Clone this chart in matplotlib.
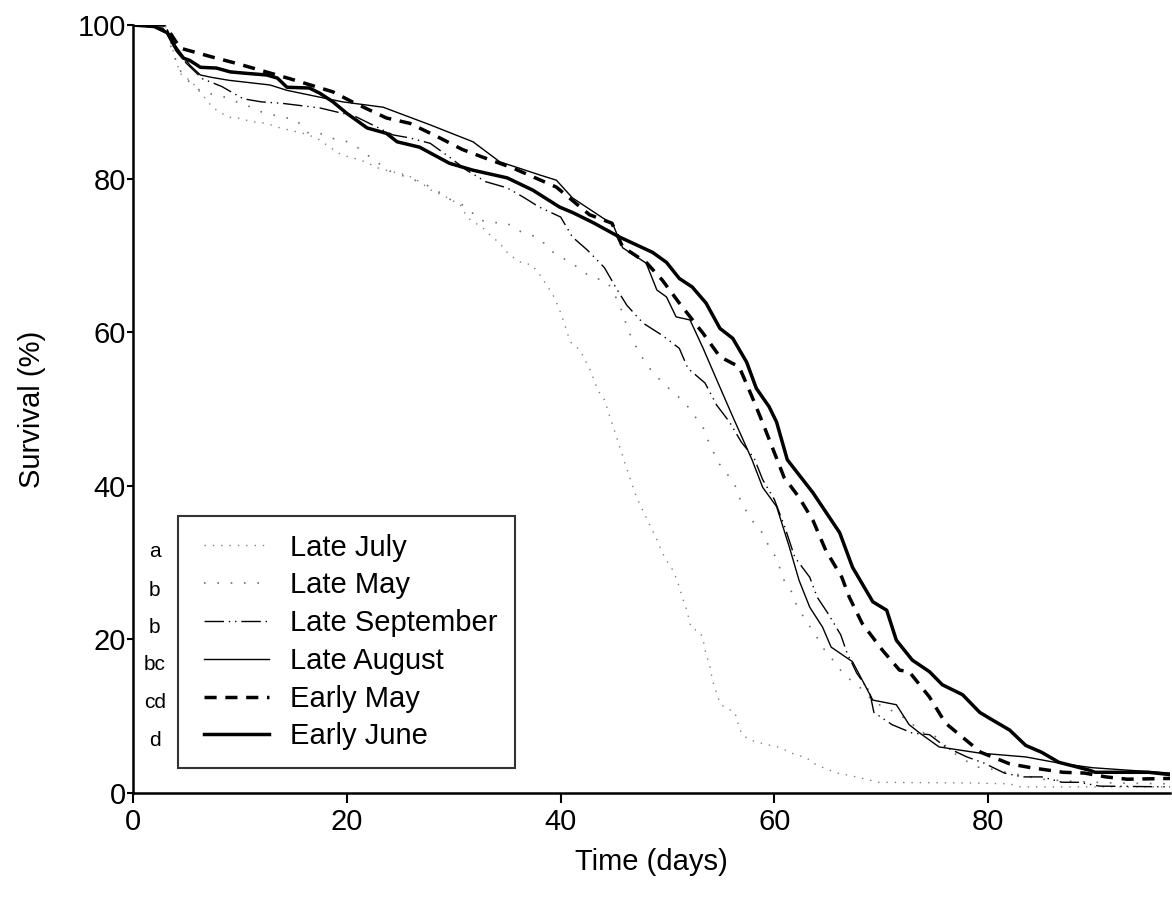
import numpy as np
import matplotlib
matplotlib.use("Agg")
import matplotlib.pyplot as plt
from matplotlib.legend_handler import HandlerLine2D
from matplotlib.lines import Line2D

plt.rcParams['font.family'] = ['Liberation Sans', 'DejaVu Sans']

# Survival curves (day, survival %)
late_july_day = [0, 3, 4.4, 5.5, 6.9, 7.5, 8.9, 9.8, 11.2, 12.5, 13.5, 14.7, 15.9, 17.2, 18.4,
                 19.5, 20.3, 21.7, 22.9, 24.2, 25.6, 26.8, 27.9, 29.3, 30.6, 31.3, 32.7, 33.6,
                 34.3, 35, 35.7, 36.4, 37.3, 38.2, 38.7, 39.2, 39.6, 39.9, 40.4, 40.7, 41, 41.8,
                 42.2, 42.9, 43.2, 43.6, 44.1, 44.6, 44.8, 46, 47.1, 48.3, 49, 49.5, 50, 50.5,
                 50.9, 51.4, 51.8, 52.2, 53, 53.3, 53.6, 53.9, 54.2, 54.7, 55, 55.6, 56.3, 56.7,
                 57, 57.7, 59.3, 60.6, 61.4, 62.2, 63, 63.6, 64.4, 65.1, 65.9, 67.3, 68.9, 69.5,
                 78.5, 82, 83, 97]
late_july_surv = [100, 100, 93.7, 92.6, 90.2, 89.2, 88, 87.9, 87.4, 87.2, 86.7, 86.3, 85.9, 85.3,
                  84.1, 83.1, 82.8, 82.2, 81.4, 80.9, 80.5, 79.6, 78.5, 77.6, 76.6, 74.9, 73.6,
                  72.4, 71.6, 70.4, 69.6, 69, 68.8, 67.2, 66.1, 65.1, 63.9, 62.9, 60.9, 59.6, 58.6,
                  57.7, 56.6, 54.7, 53.4, 52.2, 51.2, 49, 48.2, 43, 38.5, 35, 33, 31.3, 30.1, 29,
                  27.7, 25.4, 23.8, 21.5, 21, 20.2, 18, 16.9, 14.7, 12.5, 11.5, 11, 10.5, 8.5,
                  7.6, 6.9, 6.3, 5.9, 5.3, 4.9, 4.6, 3.9, 3.4, 3, 2.6, 2.2, 1.7, 1.4,
                  1.3, 1.2, 0.8, 0.8]

late_may_day = [0, 3, 3.7, 4.7, 5.5, 6.4, 7.8, 8.9, 10, 11.1, 12, 13.1, 14.4, 15.3, 16.3, 17.5,
                18.4, 19.6, 20.5, 21.7, 22.8, 23.8, 25, 26, 27.1, 28.4, 29.3, 30.6, 31.5, 32.4,
                33.7, 35, 35.9, 37.1, 38, 39, 40.1, 41, 42.1, 43.2, 44.4, 45.3, 45.8, 46.2, 46.6,
                47.2, 47.9, 48.6, 49.5, 50.5, 51.6, 52.3, 53.3, 53.7, 54.2, 54.7, 55.5, 56.3,
                56.7, 57.2, 57.9, 58.8, 59.3, 60, 60.5, 60.9, 61.6, 62, 62.6, 64, 64.7, 65.6,
                66.5, 67.7, 68.6, 69.3, 70.5, 71.5, 72.6, 73.6, 74.7, 75.7, 76.8, 77.8, 78.9,
                80, 82, 85, 88, 92, 97]
late_may_surv = [100, 100, 96.4, 93.2, 92.4, 91.3, 90.9, 90.5, 89.8, 89.3, 88.7, 88.3, 87.9, 87.6,
                 86, 85.9, 85.3, 85, 84.6, 83.3, 82.2, 81.1, 80.5, 80, 79.4, 78.5, 77.5, 76.8,
                 75.9, 74.6, 74.3, 74.2, 73.3, 72.7, 72.3, 70.7, 69.7, 69.1, 67.8, 67.1, 66.5,
                 64.2, 62.5, 60.7, 59.4, 57.7, 56.1, 54.8, 53.5, 52.2, 50.9, 49.5, 47.7, 46.2,
                 44.7, 43.1, 41.7, 40.1, 38.5, 37.1, 35.5, 34, 32.6, 31, 29.3, 27.7, 26.2, 24.7,
                 23.2, 20.2, 18.6, 17.1, 15.4, 14.1, 13, 11.7, 11.2, 10.2, 9.5, 7.9, 7.8, 6.5,
                 5.2, 4.3, 3.4, 3.2, 2.6, 1.8, 1.5, 1.3, 1.2]

late_sep_day = [0, 3, 4, 5, 6.5, 8.3, 10.3, 12, 14, 17.5, 19.6, 20.5, 22.4, 24.3, 25.9, 27.8,
                29.6, 31.2, 33, 35, 36.5, 38, 40, 41.1, 42.5, 44.1, 45.3, 46.2, 47.7, 49.5, 51.1,
                51.9, 53.5, 54.6, 55.8, 56.9, 58.1, 58.9, 60, 61, 61.9, 63.3, 64, 65, 66.2, 66.8,
                67.7, 68.9, 69.3, 71, 72.9, 74.5, 76, 78, 79.6, 81.5, 83.2, 85, 86.9, 88.5, 90.4,
                97]
late_sep_surv = [100, 100, 97, 95, 93, 92, 90.4, 90, 89.8, 89.2, 88.5, 88.3, 87, 85.7, 85.3, 84.6,
                 82.8, 81.1, 79.6, 78.8, 77.6, 76.3, 75, 72.4, 70.7, 68.4, 65.5, 63.5, 61.2, 59.6,
                 57.9, 55.3, 53.4, 50.5, 48.3, 45.7, 43.6, 40.8, 38.2, 34.5, 30.7, 28.1, 25.5,
                 23.4, 20.6, 18.2, 15.6, 13.2, 10.5, 8.9, 7.8, 7.6, 6, 4.7, 3.9, 2.6, 2.1, 2.1,
                 1.4, 1.4, 0.9, 0.8]

late_aug_day = [0, 2.8, 4.4, 5.3, 6.3, 7.3, 9, 12.8, 14.4, 17.5, 19.6, 23.4, 27.8, 31.8, 34.3,
                38, 39.6, 41.1, 44.9, 45.8, 48, 49, 49.9, 50.8, 52.1, 53.3, 54.6, 56.1, 57.9,
                58.9, 60.2, 61.4, 62.3, 63.3, 64.5, 65.3, 67.3, 69.2, 71.4, 72.6, 73.6, 75.4,
                79.2, 83.5, 86.6, 89.7, 92.8, 97]
late_aug_surv = [100, 99.6, 96.5, 94.8, 93.5, 93.2, 92.8, 92.2, 91.5, 90.6, 90, 89.3, 87, 84.8,
                 82.2, 80.5, 79.8, 77.5, 74, 71, 69, 65.5, 64.6, 62, 61.6, 58, 53.8, 49, 43.4,
                 39.8, 37.3, 32, 27.7, 24.2, 21.6, 19, 17.1, 12.1, 11.5, 8.9, 7.8, 6, 5.2, 4.7,
                 3.9, 3.3, 3, 2.6]

early_may_day = [0, 3, 4.4, 7.5, 9.7, 14.7, 18.7, 20.5, 23.7, 25.9, 28.7, 30.8, 32.7, 35.5, 37.8,
                 39.6, 42.7, 44.8, 45.8, 48, 49.5, 51.1, 53.3, 54.9, 56.7, 57.9, 58.9, 59.8,
                 60.9, 62.3, 63.6, 64.8, 66.3, 67, 68.2, 70.1, 71.7, 72.6, 74.5, 76, 77.3, 79.3,
                 82, 84, 87, 89, 91, 93, 97]
early_may_surv = [100, 100, 97, 95.8, 95, 93, 91.3, 90, 87.9, 87.2, 85.3, 83.8, 82.8, 81.4, 80,
                  78.9, 75.3, 74.2, 71.1, 69.1, 66.8, 63.8, 59.9, 56.8, 55.5, 51.6, 48.2, 45,
                  41.1, 38.5, 35.5, 31.6, 28.1, 25.5, 22.1, 18.6, 16, 15.8, 12.5, 9.1, 7.6, 5.3,
                  3.8, 3.3, 2.7, 2.6, 2.1, 1.8, 1.9]

early_june_day = [0, 2, 3.2, 4.1, 4.7, 5.3, 6.3, 7.8, 9.1, 10.7, 12.5, 13.5, 14.4, 16.5, 17.5,
                  18.7, 20, 21.9, 23.7, 24.7, 26.8, 29.6, 31.8, 35, 37.4, 39.9, 41.1, 43, 45.5,
                  48.6, 49.9, 51.1, 52.3, 53.6, 54.9, 56.1, 57.4, 58.3, 59.5, 60.2, 61.2, 63.6,
                  66.1, 67.3, 69.2, 70.5, 71.4, 72.9, 74.5, 75.7, 77.6, 79.2, 80.4, 82, 83.5, 85,
                  86.6, 89.4, 90, 95, 97]
early_june_surv = [100, 99.8, 99, 96.7, 95.7, 95.4, 94.5, 94.4, 93.9, 93.7, 93.5, 93.1, 91.9,
                   91.8, 91.1, 90, 88.5, 86.6, 85.9, 84.8, 84.1, 82, 81.1, 80.1, 78.5, 76.3,
                   75.6, 74.3, 72.4, 70.4, 69.1, 67, 65.9, 63.8, 60.5, 59.2, 56.1, 52.7, 50.3,
                   48.3, 43.4, 39.1, 33.9, 29.4, 24.9, 23.8, 19.9, 17.3, 15.8, 14.1, 12.8, 10.5,
                   9.5, 8.2, 6.2, 5.3, 4, 3, 2.7, 2.7, 2.4]

groups = ["Late July", "Late May", "Late September", "Late August", "Early May", "Early June"]
letters = ["a", "b", "b", "bc", "cd", "d"]

series = [(late_july_day, late_july_surv),
          (late_may_day, late_may_surv),
          (late_sep_day, late_sep_surv),
          (late_aug_day, late_aug_surv),
          (early_may_day, early_may_surv),
          (early_june_day, early_june_surv)]

styles = [dict(color='#808080', lw=1.0, ls=(0, (1, 5))),
          dict(color='#707070', lw=1.2, ls=(0, (1, 7))),
          dict(color='black', lw=1.0, ls=(0, (14, 3.5, 1, 3.5, 1, 3.5))),
          dict(color='black', lw=1.0, ls='-'),
          dict(color='black', lw=2.5, ls=(0, (3.5, 2.5))),
          dict(color='black', lw=2.5, ls='-')]


class LeftPadLine(HandlerLine2D):
    # legend sample line with a small gap on its left side only
    def get_xdata(self, legend, xdescent, ydescent, width, height, fontsize):
        x = np.array([-xdescent + 0.3 * fontsize, width - xdescent])
        return x, x


fig = plt.figure(figsize=(11.72, 9.11), dpi=100)
ax = fig.add_axes([0.1135, 0.1295, 0.8848, 0.843])

for (d, s), name, st in zip(series, groups, styles):
    ax.plot(d, s, color=st['color'], lw=st['lw'], linestyle=st['ls'], label=name)

ax.set_xlim(0, 97)
ax.set_ylim(0, 100)
ax.set_xticks([0, 20, 40, 60, 80])
ax.set_yticks([0, 20, 40, 60, 80, 100])
ax.tick_params(labelsize=21, width=1.5, direction='out')
ax.tick_params(axis='x', length=7, pad=4)
ax.tick_params(axis='y', length=4, pad=1)
for sp in ['top', 'right']:
    ax.spines[sp].set_visible(False)
for sp in ['left', 'bottom']:
    ax.spines[sp].set_linewidth(1.8)

ax.set_xlabel("Time (days)", fontsize=21, labelpad=8.6)
ax.set_ylabel("Survival (%)", fontsize=21, labelpad=23)

leg = ax.legend(loc='lower left', bbox_to_anchor=(0.0434, 0.0326), borderaxespad=0,
                fontsize=21, frameon=True, fancybox=False, handlelength=2.53,
                handletextpad=0.7, labelspacing=0.335, borderpad=0.6,
                handler_map={Line2D: LeftPadLine()})
leg.get_frame().set_edgecolor('black')
leg.get_frame().set_linewidth(1.5)

# significance letters beside the legend rows
row_y = [0.314, 0.264, 0.215, 0.167, 0.118, 0.069]
for letter, yy in zip(letters, row_y):
    ax.text(0.021, yy, letter, transform=ax.transAxes, fontsize=15,
            ha='center', va='center')

fig.savefig("out.png", dpi=100)
